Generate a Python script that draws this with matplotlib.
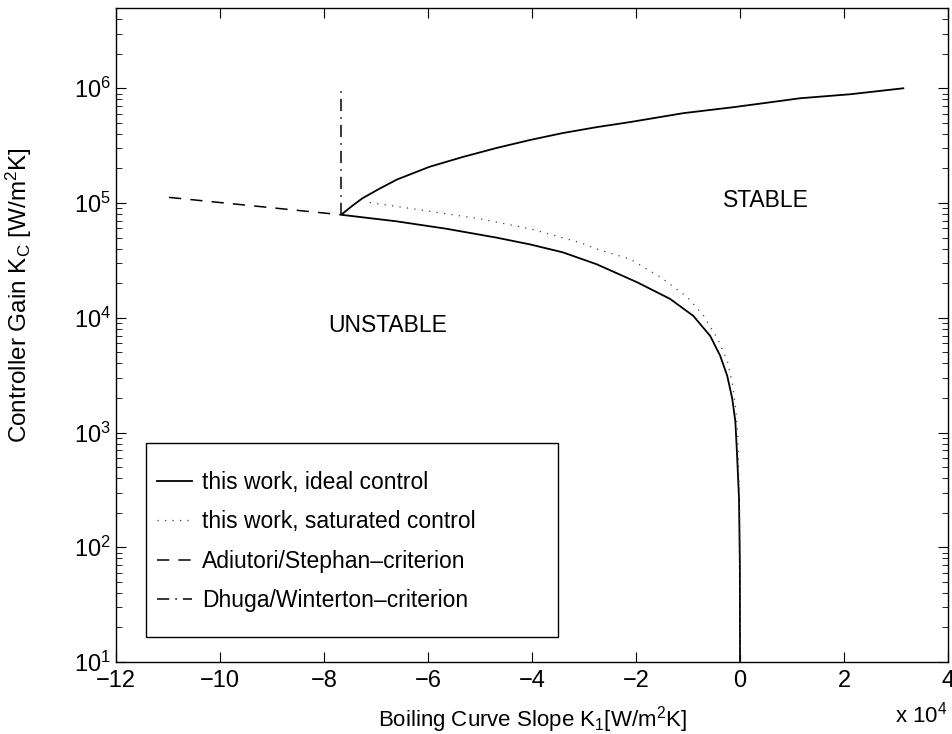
import matplotlib.pyplot as plt
from matplotlib.patches import Rectangle
from matplotlib.ticker import FixedLocator, FuncFormatter, LogLocator

plt.rcParams['font.family'] = ['Liberation Sans', 'DejaVu Sans']
plt.rcParams['mathtext.fontset'] = 'custom'
plt.rcParams['mathtext.rm'] = 'Liberation Sans'
plt.rcParams['mathtext.it'] = 'Liberation Sans'

# Data (K1 in W/m^2K, Kc in W/m^2K)
ideal_k1 = [31400, 21200, 11600, 4470, -1300, -10900, -21200, -27500, -34100,
            -40400, -46800, -53300, -59700, -66000, -69500, -72600, -74500, -76700,
            -66100, -56500, -46800, -40400, -34100, -27600, -19800,
            -13450, -9000, -5740, -3820, -2470, -1500, -900, -600, -200, -30, 0]
ideal_kc = [1.0e6, 8.87e5, 8.19e5, 7.41e5, 6.84e5, 6.07e5, 5.07e5, 4.59e5, 4.07e5,
            3.54e5, 3.02e5, 2.52e5, 2.07e5, 1.60e5, 1.32e5, 1.10e5, 9.5e4, 7.9e4,
            6.93e4, 5.97e4, 4.99e4, 4.36e4, 3.72e4, 2.93e4, 2.04e4,
            1.46e4, 1.04e4, 6.95e3, 4.67e3, 3.13e3, 1.98e3, 1.25e3, 6.8e2, 2.7e2, 70, 10]

sat_k1 = [-71200, -59650, -50000, -40400, -30700, -27300, -21100, -15300, -10100,
          -7000, -4300, -2400, -1400, -830, -440, -150, -30, 0]
sat_kc = [1.01e5, 8.47e4, 7.28e4, 5.97e4, 4.51e4, 3.94e4, 3.24e4, 2.26e4, 1.51e4,
          1.04e4, 6.55e3, 4.14e3, 2.57e3, 1.62e3, 9.46e2, 3.0e2, 1.0e2, 10]

adiutori_k1 = [-109800, -76700]
adiutori_kc = [1.12e5, 7.9e4]

dhuga_k1 = [-76700, -76700]
dhuga_kc = [7.9e4, 1.0e6]

xticks = [-120000, -100000, -80000, -60000, -40000, -20000, 0, 20000, 40000]

fig = plt.figure(figsize=(9.53, 7.34), dpi=100)
ax = fig.add_axes([0.1217, 0.0981, 0.8731, 0.8909])

ax.plot(ideal_k1, ideal_kc, color='black', lw=1.3, label='this work, ideal control')
ax.plot(sat_k1, sat_kc, color='#444444', lw=0.9, linestyle=(0, (1, 5)),
        label='this work, saturated control')
ax.plot(adiutori_k1, adiutori_kc, color='black', lw=1.1, linestyle=(0, (8, 6)),
        label='Adiutori/Stephan\u2013criterion')
ax.plot(dhuga_k1, dhuga_kc, color='black', lw=1.1, linestyle=(0, (8, 4, 1, 4)),
        label='Dhuga/Winterton\u2013criterion')

ax.set_yscale('log')
ax.set_xlim(-120000, 40000)
ax.set_ylim(10, 5e6)
ax.xaxis.set_major_locator(FixedLocator(xticks))
ax.xaxis.set_major_formatter(FuncFormatter(lambda v, p: f'{v / 1e4:g}'.replace('-', '\u2212')))
ax.yaxis.set_major_locator(LogLocator(base=10, numticks=10))
ax.yaxis.set_minor_locator(LogLocator(base=10, subs=range(2, 10), numticks=20))

ax.tick_params(which='both', direction='in', top=True, right=True, labelsize=17)
ax.tick_params(which='major', length=7, width=0.8)
ax.tick_params(which='minor', length=4, width=0.6)
ax.tick_params(axis='x', pad=6)
for s in ax.spines.values():
    s.set_linewidth(1.0)

ax.text(5000, 1.05e5, 'STABLE', fontsize=16.5, ha='center', va='center')
ax.text(-67800, 8.5e3, 'UNSTABLE', fontsize=16.5, ha='center', va='center')

ax.set_xlabel('Boiling Curve Slope K$_1$[W/m$^2$K]', fontsize=16)
ax.set_ylabel('Controller Gain K$_C$ [W/m$^2$K]', fontsize=17.5)
ax.xaxis.set_label_coords(0.5, -0.064)
ax.yaxis.set_label_coords(-0.099, 0.561)
fig.text(0.967, 0.026, 'x 10$^4$', fontsize=16, ha='center', va='center')

# legend box drawn separately so its padding can match the original
ax.add_patch(Rectangle((0.036, 0.038), 0.495, 0.297, transform=ax.transAxes,
                       facecolor='white', edgecolor='black', lw=1.0, zorder=4))
leg = ax.legend(loc='upper left', bbox_to_anchor=(0.0433, 0.2997),
                borderaxespad=0, borderpad=0.2, fontsize=16.5, frameon=False,
                handlelength=1.53, labelspacing=0.72, handletextpad=0.44)
leg.set_zorder(5)

fig.savefig('out.png', dpi=100)
